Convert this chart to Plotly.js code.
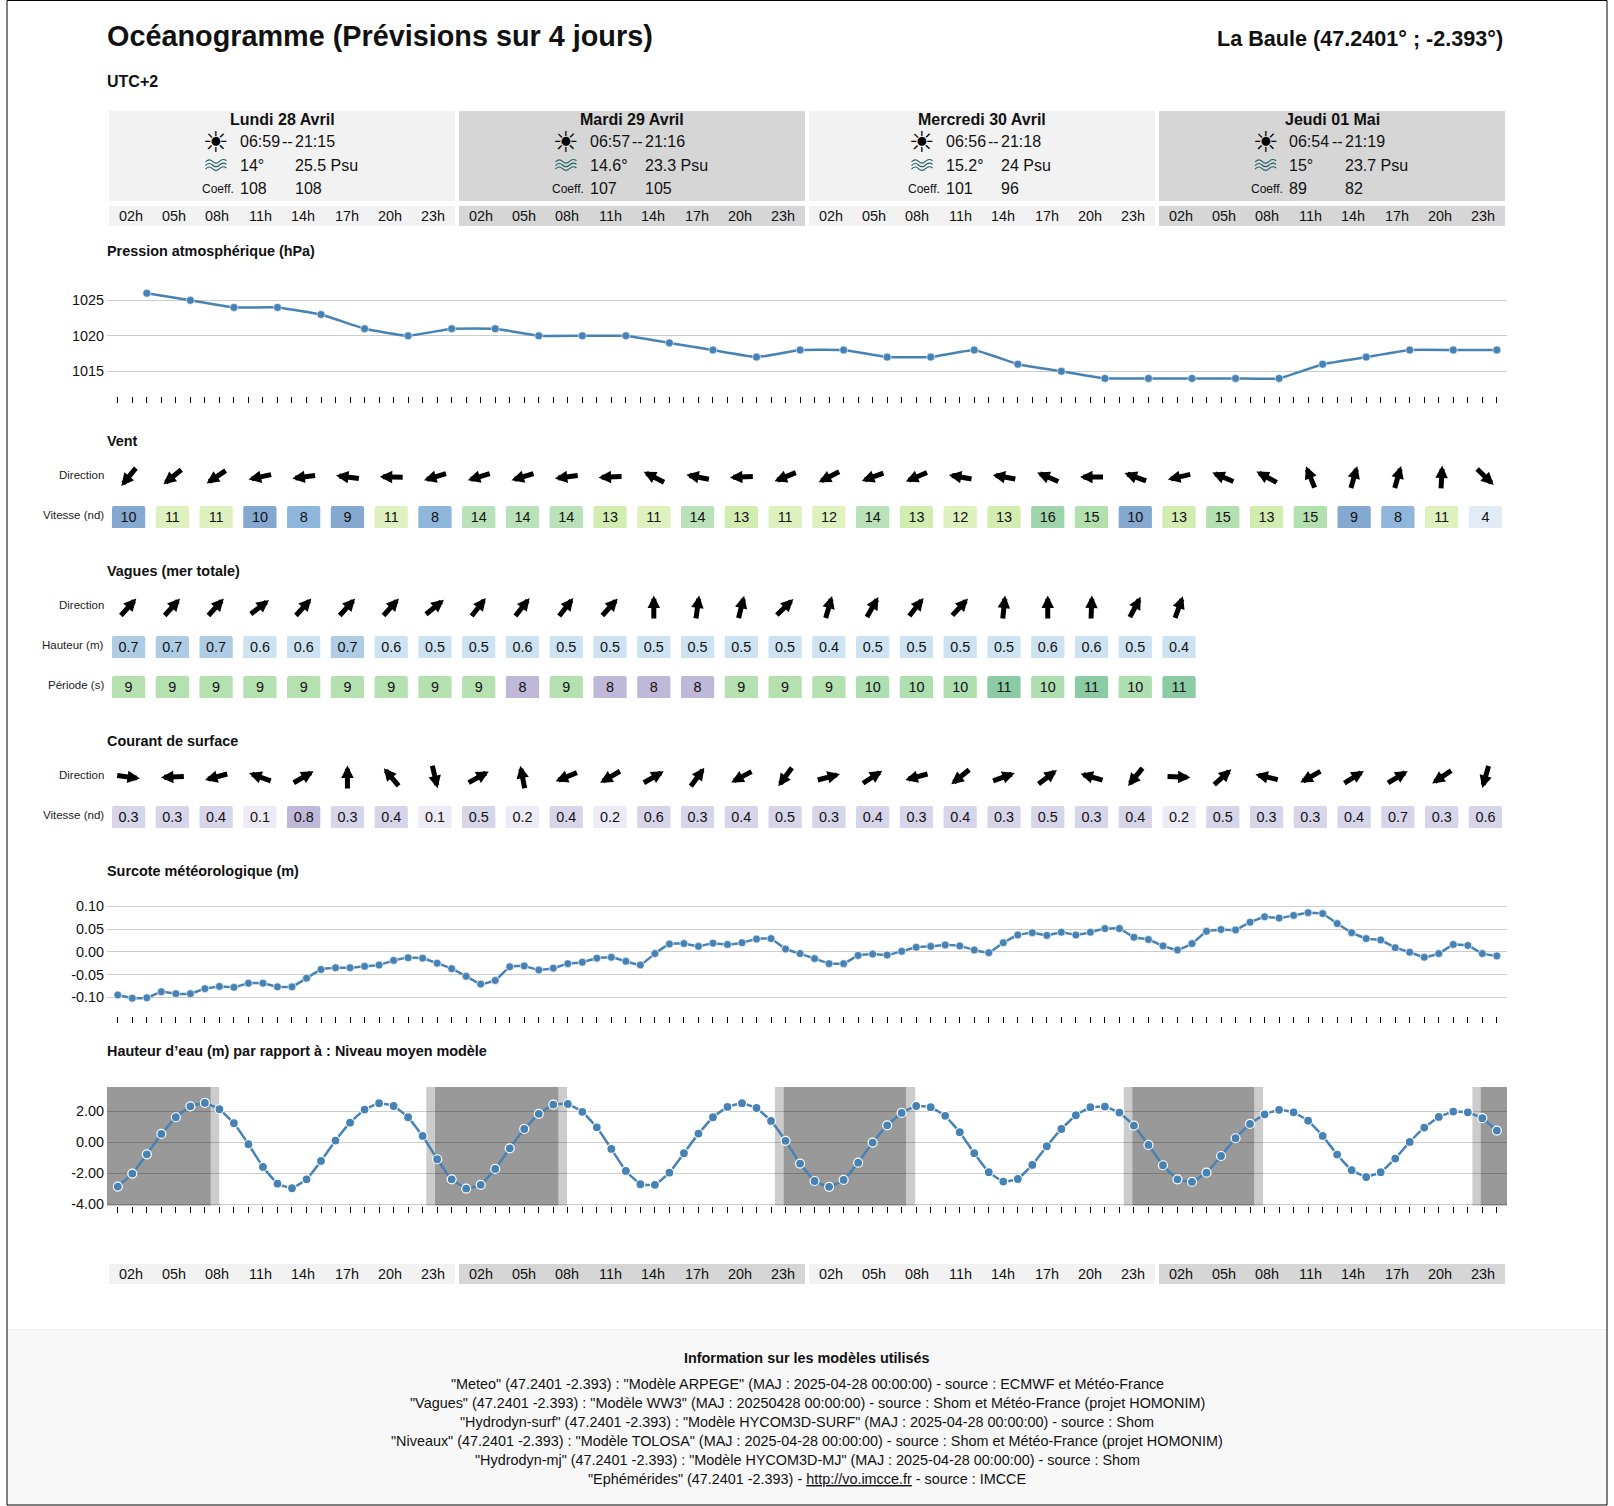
<!DOCTYPE html>
<html><head><meta charset="utf-8">
<script src="https://cdn.plot.ly/plotly-3.0.1.min.js"></script>
<style>html,body{margin:0;padding:0;background:#fff}#c{width:1614px;height:1506px}</style>
</head><body><div id="c"></div>
<script>
// ---------- data ----------
const dayNames = ['Lundi 28 Avril','Mardi 29 Avril','Mercredi 30 Avril','Jeudi 01 Mai'];
const sunrise = ['06:59','06:57','06:56','06:54'];
const sunset = ['21:15','21:16','21:18','21:19'];
const seaTemp = ['14°','14.6°','15.2°','15°'];
const salinity = ['25.5 Psu','23.3 Psu','24 Psu','23.7 Psu'];
const coeffAm = ['108','107','101','89'];
const coeffPm = ['108','105','96','82'];
const dawn = [6.4,6.35,6.3,6.29];
const dusk = [21.85,21.87,21.89,21.89];
const hourLabels = ['02h','05h','08h','11h','14h','17h','20h','23h'];

const pressureHours = [2,5,8,11,14,17,20,23,26,29,32,35,38,41,44,47,50,53,56,59,62,65,68,71,74,77,80,83,86,89,92,95];
const pressure = [1026,1025,1024,1024,1023,1021,1020,1021,1021,1020,1020,1020,1019,1018,1017,1018,1018,1017,1017,1018,1016,1015,1014,1014,1014,1014,1014,1016,1017,1018,1018,1018];

const windDir = [219,231,236,258,263,277,271,253,253,253,263,268,297,281,268,248,243,250,247,280,280,293,270,290,257,293,298,338,16,16,3,134];
const windSpeed = [10,11,11,10,8,9,11,8,14,14,14,13,11,14,13,11,12,14,13,12,13,16,15,10,13,15,13,15,9,8,11,4];

const waveDir = [42,42,42,52,42,42,42,51,38,38,38,42,0,8,14,46,16,30,38,43,6,0,2,28,20];
const waveHeight = [0.7,0.7,0.7,0.6,0.6,0.7,0.6,0.5,0.5,0.6,0.5,0.5,0.5,0.5,0.5,0.5,0.4,0.5,0.5,0.5,0.5,0.6,0.6,0.5,0.4];
const wavePeriod = [9,9,9,9,9,9,9,9,9,8,9,8,8,8,9,9,9,10,10,10,11,10,11,10,11];

const currentDir = [98,268,255,290,60,0,320,167,61,349,248,240,60,36,242,216,75,57,255,231,70,53,286,219,92,48,283,241,58,59,236,196];
const currentSpeed = [0.3,0.3,0.4,0.1,0.8,0.3,0.4,0.1,0.5,0.2,0.4,0.2,0.6,0.3,0.4,0.5,0.3,0.4,0.3,0.4,0.3,0.5,0.3,0.4,0.2,0.5,0.3,0.3,0.4,0.7,0.3,0.6];

const hourly = [0,1,2,3,4,5,6,7,8,9,10,11,12,13,14,15,16,17,18,19,20,21,22,23,24,25,26,27,28,29,30,31,32,33,34,35,36,37,38,39,40,41,42,43,44,45,46,47,48,49,50,51,52,53,54,55,56,57,58,59,60,61,62,63,64,65,66,67,68,69,70,71,72,73,74,75,76,77,78,79,80,81,82,83,84,85,86,87,88,89,90,91,92,93,94,95];
const surge = [-0.095,-0.102,-0.101,-0.088,-0.092,-0.092,-0.081,-0.076,-0.078,-0.069,-0.069,-0.077,-0.077,-0.058,-0.039,-0.035,-0.035,-0.032,-0.029,-0.019,-0.013,-0.014,-0.025,-0.037,-0.054,-0.071,-0.063,-0.033,-0.031,-0.040,-0.036,-0.026,-0.023,-0.014,-0.012,-0.021,-0.029,-0.004,0.017,0.018,0.012,0.019,0.016,0.020,0.028,0.029,0.006,-0.004,-0.015,-0.026,-0.026,-0.008,-0.005,-0.007,0.001,0.010,0.012,0.015,0.013,0.004,-0.002,0.020,0.037,0.042,0.036,0.043,0.037,0.043,0.051,0.051,0.032,0.027,0.013,0.004,0.018,0.045,0.049,0.048,0.065,0.077,0.074,0.080,0.086,0.084,0.062,0.042,0.029,0.026,0.009,-0.001,-0.012,-0.004,0.016,0.014,-0.004,-0.009];
const water = [-2.87,-2.03,-0.78,0.54,1.62,2.33,2.55,2.14,1.23,-0.13,-1.60,-2.68,-2.98,-2.40,-1.21,0.11,1.27,2.12,2.53,2.35,1.62,0.41,-1.10,-2.40,-3.00,-2.76,-1.73,-0.39,0.86,1.84,2.44,2.48,1.97,0.97,-0.43,-1.86,-2.72,-2.76,-1.97,-0.71,0.56,1.62,2.29,2.53,2.22,1.38,0.09,-1.38,-2.51,-2.89,-2.44,-1.32,-0.02,1.10,1.90,2.35,2.27,1.71,0.65,-0.71,-1.94,-2.55,-2.38,-1.47,-0.26,0.86,1.75,2.27,2.31,1.92,1.08,-0.17,-1.49,-2.40,-2.57,-1.97,-0.89,0.26,1.19,1.81,2.10,1.94,1.40,0.41,-0.80,-1.81,-2.25,-1.94,-1.06,0.02,0.95,1.64,1.99,1.94,1.56,0.76];

const pressureTicks = [1015,1020,1025];
const surgeTicks = [-0.10,-0.05,0,0.05,0.10];
const surgeTickText = ['-0.10','-0.05','0.00','0.05','0.10'];
const waterTicks = [-4,-2,0,2];
const waterTickText = ['-4.00','-2.00','0.00','2.00'];

const footerLines = [
 '"Meteo" (47.2401 -2.393) : "Modèle ARPEGE" (MAJ : 2025-04-28 00:00:00) - source : ECMWF et Météo-France',
 '"Vagues" (47.2401 -2.393) : "Modèle WW3" (MAJ : 20250428 00:00:00) - source : Shom et Météo-France (projet HOMONIM)',
 '"Hydrodyn-surf" (47.2401 -2.393) : "Modèle HYCOM3D-SURF" (MAJ : 2025-04-28 00:00:00) - source : Shom',
 '"Niveaux" (47.2401 -2.393) : "Modèle TOLOSA" (MAJ : 2025-04-28 00:00:00) - source : Shom et Météo-France (projet HOMONIM)',
 '"Hydrodyn-mj" (47.2401 -2.393) : "Modèle HYCOM3D-MJ" (MAJ : 2025-04-28 00:00:00) - source : Shom',
 '"Ephémérides" (47.2401 -2.393) - <span style="text-decoration:underline">http://vo.imcce.fr</span> - source : IMCCE'
];

// ---------- colour scales ----------
const windColor = {4:'#e3ecf6',8:'#8fb6db',9:'#84a8cf',10:'#84a8cf',11:'#dff1be',12:'#dff1be',13:'#d3edb1',14:'#b9e2ba',15:'#b3e0af',16:'#9dd4aa'};
const heightColor = {'0.4':'#cde3f1','0.5':'#cde3f1','0.6':'#cde3f1','0.7':'#aecde5'};
const periodColor = {8:'#bfb8d8',9:'#b5e0b0',10:'#aedfb0',11:'#8ccca5'};
const currentColor = {'0.1':'#ecebf6','0.2':'#ecebf6','0.3':'#d7d5e9','0.4':'#d7d5e9','0.5':'#d7d5e9','0.6':'#d7d5e9','0.7':'#d7d5e9','0.8':'#bfb8d8'};

// ---------- page geometry ----------
const W = 1614, H = 1506;
const px = x => x / W, py = y => 1 - y / H;
const PLOT_L = 107, PLOT_R = 1507;
const HOUR_MIN = -0.744, HOUR_MAX = 95.7;
const CELL_L = 106.7, CELL_R = 1507.3;
const TXT = '#111';
const FONT = 'Liberation Sans, Arial, sans-serif';
const WATER_RANGE = [-4.11,3.58];

const annotations = [], shapes = [], traces = [];
const layout = {
  width: W, height: H, margin: {l:0,r:0,t:0,b:0,pad:0}, autosize:false,
  paper_bgcolor:'#fff', plot_bgcolor:'rgba(0,0,0,0)', showlegend:false, hovermode:false,
  font:{family:FONT,color:TXT,size:14.4}, barmode:'overlay',
  annotations, shapes
};

function label(text,x,y,o={}){
  annotations.push({xref:'paper',yref:'paper',x:px(x),y:py(y),text,showarrow:false,
    xanchor:o.anchor||'left',yanchor:'middle',borderpad:0,borderwidth:0,
    font:{size:o.size||14.4,color:o.color||TXT,family:o.family||FONT}});
}
function box(x0,y0,x1,y1,fill,line){
  shapes.push({type:'rect',xref:'paper',yref:'paper',x0:px(x0),x1:px(x1),y0:py(y0),y1:py(y1),
    fillcolor:fill,line:line||{width:0},layer:'below'});
}
// sea-state icon: three thin wavy strokes
function waveIcon(cx,cy){
  [-3.6,0,3.6].forEach(off=>{
    const y = cy+off, x = cx-10.5, a = 3.4;
    const p = (X,Y)=>px(X)+','+py(Y);
    shapes.push({type:'path',xref:'paper',yref:'paper',layer:'above',line:{color:'#1d5f60',width:1.1},
      path:'M'+p(x,y+0.6)+' Q'+p(x+3.5,y-a)+' '+p(x+7,y)+' T'+p(x+14,y)+' T'+p(x+21,y-0.6)});
  });
}

// frame & footer
box(8,1329.5,1606.5,1505,'#f8f8f8',{width:0});
shapes.push({type:'line',xref:'paper',yref:'paper',x0:px(8),x1:px(1606.5),y0:py(1329.5),y1:py(1329.5),line:{color:'#eeeeee',width:1},layer:'below'});
box(7,0.5,1607,1505,'rgba(0,0,0,0)',{color:'#000',width:1});

// headings
label('<b>Océanogramme (Prévisions sur 4 jours)</b>',107,36,{size:28.8});
label('<b>La Baule (47.2401° ; -2.393°)</b>',1503,39,{size:21.6,anchor:'right'});
label('<b>UTC+2</b>',107,82,{size:16});
[['Pression atmosphérique (hPa)',251],['Vent',441],['Vagues (mer totale)',571],['Courant de surface',741],['Surcote météorologique (m)',871],['Hauteur d’eau (m) par rapport à : Niveau moyen modèle',1051]]
  .forEach(([t,y])=>label('<b>'+t+'</b>',107,y,{size:14.4}));

// day panels
const timeX = [239.6,589.6,945.6,1289.2];
dayNames.forEach((d,i)=>{
  const x0 = 109+350*i, x1 = x0+346, fill = i%2 ? '#d6d6d6' : '#f2f2f2';
  box(x0,111,x1,201,fill); box(x0,206,x1,226,fill); box(x0,1264,x1,1284,fill);
  label('<b>'+d+'</b>',(x0+x1)/2,119,{size:16,anchor:'center'});
  const t = timeX[i];
  label('☀',t-23.4,142,{size:29,anchor:'center',family:'DejaVu Sans',color:'#000'});
  waveIcon(t-23.6,165);
  label(sunrise[i],t,141,{size:16}); label('--',t+42.5,141,{size:16}); label(sunset[i],t+55.6,141,{size:16});
  label(seaTemp[i],t,165,{size:16}); label(salinity[i],t+55.6,165,{size:16});
  label('Coeff.',t-6,188.5,{size:12,anchor:'right'});
  label(coeffAm[i],t,188,{size:16}); label(coeffPm[i],t+55.6,188,{size:16});
  hourLabels.forEach((h,j)=>{
    label(h,131.3+350*i+43.04*j,216,{anchor:'center'});
    label(h,131.3+350*i+43.04*j,1274,{anchor:'center'});
  });
});

// footer text
label('<b>Information sur les modèles utilisés</b>',807,1358,{anchor:'center'});
footerLines.forEach((t,i)=>label(t,807,1384.3+19*i,{anchor:'center'}));

// ---------- line charts ----------
function chart(n,top,bottom,yRange,tickvals,ticktext,hours,vals,marker){
  const s = n===1?'':String(n);
  layout['xaxis'+s] = {domain:[px(PLOT_L),px(PLOT_R)],range:[HOUR_MIN,HOUR_MAX],anchor:'y'+s,
    tickmode:'array',tickvals:hourly,ticktext:hourly.map(()=>''),ticks:'outside',ticklen:6,tickwidth:1,tickcolor:'#000',
    showgrid:false,zeroline:false,showline:false,fixedrange:true,showticklabels:false};
  layout['yaxis'+s] = {domain:[py(bottom),py(top)],range:yRange,anchor:'x'+s,
    tickmode:'array',tickvals,ticktext,ticks:'',showgrid:true,gridcolor:'#cccccc',gridwidth:1,ticklabelstandoff:2,
    zeroline:false,showline:false,fixedrange:true,tickfont:{size:14.4,color:TXT}};
  traces.push({type:'scatter',mode:'lines+markers',x:hours,y:vals,xaxis:'x'+s,yaxis:'y'+s,cliponaxis:false,
    line:{color:'#4682b4',width:2.5,shape:'spline',smoothing:0.3},
    marker:Object.assign({color:'#4682b4',size:8},marker)});
}
chart(1,270,396,[1011.52,1029.27],pressureTicks,pressureTicks.map(String),pressureHours,pressure,{line:{color:'rgba(255,255,255,0.6)',width:1}});
chart(2,890,1016,[-0.1411,0.1358],surgeTicks,surgeTickText,hourly,surge,{line:{color:'rgba(255,255,255,0.7)',width:1}});
chart(3,1087,1205.7,WATER_RANGE,waterTicks,waterTickText,hourly,water,{size:9,line:{color:'#ffffff',width:1.2}});

// night bands on the water-level chart
function band(x0,x1,op){
  shapes.push({type:'rect',xref:'x3',yref:'y3',x0,x1,y0:WATER_RANGE[0],y1:WATER_RANGE[1],fillcolor:'#000',opacity:op,line:{width:0},layer:'between'});
}
const hm = s => { const [a,b]=s.split(':').map(Number); return a+b/60; };
let lastDusk = HOUR_MIN;
dayNames.forEach((d,i)=>{
  const o = 24*i;
  band(lastDusk,o+dawn[i],0.4);
  band(o+dawn[i],o+hm(sunrise[i]),0.2);
  band(o+hm(sunset[i]),o+dusk[i],0.2);
  lastDusk = o+dusk[i];
});
band(lastDusk,HOUR_MAX,0.4);

// ---------- cell rows & arrows (column axis) ----------
let axisN = 4;
function rowAxes(yc,half){
  const s = String(axisN++);
  layout['xaxis'+s] = {domain:[px(CELL_L),px(CELL_R)],range:[-0.5,31.5],anchor:'y'+s,visible:false,fixedrange:true};
  layout['yaxis'+s] = {domain:[py(yc+half),py(yc-half)],range:[0,1],anchor:'x'+s,visible:false,fixedrange:true};
  return s;
}
function cellRow(name,yc,vals,fmt,colors){
  const s = rowAxes(yc,11);
  label(name,104,yc-2,{size:11.5,anchor:'right',color:'#222'});
  const idx = vals.map((v,i)=>i);
  traces.push({type:'bar',xaxis:'x'+s,yaxis:'y'+s,x:idx,y:vals.map(()=>1),width:0.76,
    text:vals.map(fmt),textposition:'inside',insidetextanchor:'middle',constraintext:'none',textangle:0,
    textfont:{size:14.4,color:TXT,family:FONT},cliponaxis:false,
    marker:{color:vals.map(v=>colors[fmt(v)]),cornerradius:2,line:{width:0}}});
}
function arrowRow(name,yc,dirs){
  const s = rowAxes(yc,11);
  label(name,104,yc-2,{size:11.5,anchor:'right',color:'#222'});
  const L = 23;
  dirs.forEach((b,i)=>{
    const r = b*Math.PI/180, dx = Math.sin(r), dy = -Math.cos(r);
    annotations.push({xref:'x'+s,yref:'y'+s,x:i,y:0.5,text:' ',showarrow:true,arrowhead:2,arrowsize:0.5,arrowwidth:5,arrowcolor:'#000',
      ax:-dx*L,ay:-dy*L,axref:'pixel',ayref:'pixel',xshift:dx*L/2,yshift:-dy*L/2,standoff:0,startstandoff:0,
      font:{size:1},borderpad:0,borderwidth:0});
  });
}
const f0 = v=>String(v), f1 = v=>v.toFixed(1);
arrowRow('Direction',477,windDir);
cellRow('Vitesse (nd)',517,windSpeed,f0,windColor);
arrowRow('Direction',607,waveDir);
cellRow('Hauteur (m)',647,waveHeight,f1,heightColor);
cellRow('Période (s)',687,wavePeriod,f0,periodColor);
arrowRow('Direction',777,currentDir);
cellRow('Vitesse (nd)',817,currentSpeed,f1,currentColor);

Plotly.newPlot('c',traces,layout,{staticPlot:true,displayModeBar:false});
</script></body></html>
